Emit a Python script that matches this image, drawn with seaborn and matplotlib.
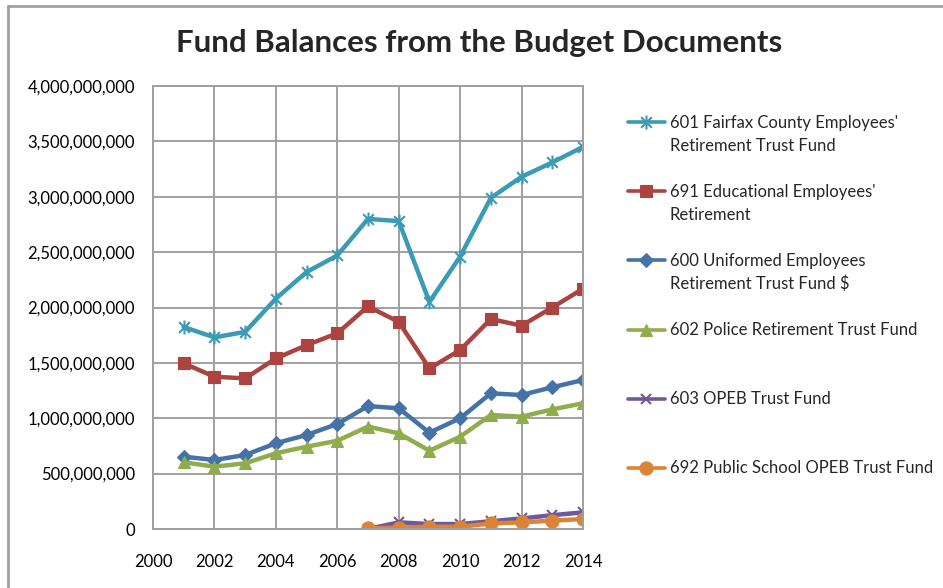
import numpy as np
import pandas as pd
import matplotlib
matplotlib.use("Agg")
import matplotlib.pyplot as plt
import seaborn as sns
from matplotlib.lines import Line2D
from matplotlib.path import Path
from matplotlib.ticker import FuncFormatter, MultipleLocator

# ---------------- data ----------------
years = [2001, 2002, 2003, 2004, 2005, 2006, 2007, 2008, 2009, 2010, 2011, 2012, 2013, 2014]
opeb_years = [2007, 2008, 2009, 2010, 2011, 2012, 2013, 2014]

fund_601 = [1.824e9, 1.73e9, 1.78e9, 2.08e9, 2.32e9, 2.47e9, 2.80e9, 2.78e9,
            2.05e9, 2.46e9, 2.99e9, 3.18e9, 3.31e9, 3.45e9]
fund_691 = [1.496e9, 1.375e9, 1.36e9, 1.54e9, 1.66e9, 1.767e9, 2.01e9, 1.87e9,
            1.45e9, 1.616e9, 1.896e9, 1.836e9, 2.0e9, 2.17e9]
fund_600 = [0.653e9, 0.623e9, 0.668e9, 0.774e9, 0.849e9, 0.948e9, 1.11e9, 1.09e9,
            0.87e9, 1.0e9, 1.225e9, 1.21e9, 1.28e9, 1.345e9]
fund_602 = [0.602e9, 0.563e9, 0.593e9, 0.684e9, 0.743e9, 0.797e9, 0.924e9, 0.864e9,
            0.707e9, 0.833e9, 1.03e9, 1.014e9, 1.08e9, 1.135e9]
fund_603 = [0.0e9, 0.06e9, 0.045e9, 0.045e9, 0.07e9, 0.095e9, 0.125e9, 0.15e9]
fund_692 = [0.005e9, 0.012e9, 0.02e9, 0.02e9, 0.05e9, 0.06e9, 0.075e9, 0.09e9]

labels = [
    "601 Fairfax County Employees'\nRetirement Trust Fund",
    "691 Educational Employees'\nRetirement",
    "600 Uniformed Employees\nRetirement Trust Fund $",
    "602 Police Retirement Trust Fund",
    "603 OPEB Trust Fund",
    "692 Public School OPEB Trust Fund",
]
x_ticks = [2000, 2002, 2004, 2006, 2008, 2010, 2012, 2014]
title = "Fund Balances from the Budget Documents"

# ---------------- style ----------------
sns.set_theme(style="white")
plt.rcParams["font.family"] = ["Lato", "DejaVu Sans"]

star = Path([(-1, -1), (1, 1), (-1, 1), (1, -1), (0, -1.3), (0, 1.3)],
            [Path.MOVETO, Path.LINETO, Path.MOVETO, Path.LINETO, Path.MOVETO, Path.LINETO])

series = [
    (years, fund_601, "#3b9bb4", star, 10),
    (years, fund_691, "#ab4340", "s", 9),
    (years, fund_600, "#4572a7", "D", 7.5),
    (years, fund_602, "#8fad4c", "^", 9),
    (opeb_years, fund_603, "#71589a", "x", 7.5),
    (opeb_years, fund_692, "#db8436", "o", 9.5),
]

fig = plt.figure(figsize=(9.43, 5.88), dpi=100)
ax = fig.add_axes([153 / 943, 1 - 529 / 588, (583 - 153) / 943, (529 - 86) / 588])

handles = []
for (xs, ys, col, mk, ms) in series:
    df = pd.DataFrame({"year": xs, "value": ys})
    mew = 1.5 if (mk == "x" or mk is star) else 0.8
    sns.lineplot(data=df, x="year", y="value", ax=ax, color=col, linewidth=3.2,
                 marker=mk, markersize=ms, markeredgecolor=col, markerfacecolor=col,
                 markeredgewidth=mew, legend=False)
    handles.append(Line2D([], [], color=col, linewidth=2.6, marker=mk, markersize=ms,
                          markeredgecolor=col, markerfacecolor=col, markeredgewidth=mew))

ax.set_xlim(2000, 2014)
ax.set_ylim(0, 4e9)
ax.set_xticks(x_ticks)
ax.yaxis.set_major_locator(MultipleLocator(5e8))
ax.yaxis.set_major_formatter(FuncFormatter(lambda v, p: f"{v:,.0f}"))
ax.set_xlabel("")
ax.set_ylabel("")
ax.grid(True, color="#a0a0a0", linewidth=1.4)
ax.set_axisbelow(True)
for s in ax.spines.values():
    s.set_color("#a0a0a0")
    s.set_linewidth(1.4)
ax.tick_params(axis="both", length=0, labelsize=12, colors="black")
ax.tick_params(axis="y", pad=13)
ax.tick_params(axis="x", pad=18)

fig.text(479 / 943, 1 - 43 / 588, title, ha="center", va="center",
         fontsize=22.5, fontweight="bold")

# legend with uniform row pitch; blank rows keep spacing as in reference
blank = Line2D([], [], linestyle="none")
rows_h = []
rows_l = []
def add(h, l):
    rows_h.append(h); rows_l.append(l)
add(handles[0], "601 Fairfax County Employees'"); add(blank, "Retirement Trust Fund"); add(blank, " ")
add(handles[1], "691 Educational Employees'"); add(blank, "Retirement"); add(blank, " ")
add(handles[2], "600 Uniformed Employees"); add(blank, "Retirement Trust Fund $"); add(blank, " ")
add(handles[3], "602 Police Retirement Trust Fund"); add(blank, " "); add(blank, " ")
add(handles[4], "603 OPEB Trust Fund"); add(blank, " "); add(blank, " ")
add(handles[5], "692 Public School OPEB Trust Fund")

leg = fig.legend(rows_h, rows_l, loc="upper left", bbox_to_anchor=(628 / 943, 1 - 115 / 588),
                 frameon=False, fontsize=12, handlelength=2.2, handletextpad=0.3,
                 labelspacing=0.42, borderpad=0, borderaxespad=0)

# chart-area border (top and left visible)
fig.add_artist(Line2D([8 / 943, 8 / 943], [0, 1 - 6 / 588], transform=fig.transFigure,
                      color="#a0a0a0", linewidth=2))
fig.add_artist(Line2D([8 / 943, 1], [1 - 6 / 588, 1 - 6 / 588], transform=fig.transFigure,
                      color="#a0a0a0", linewidth=2))

fig.savefig("out.png", dpi=100)
